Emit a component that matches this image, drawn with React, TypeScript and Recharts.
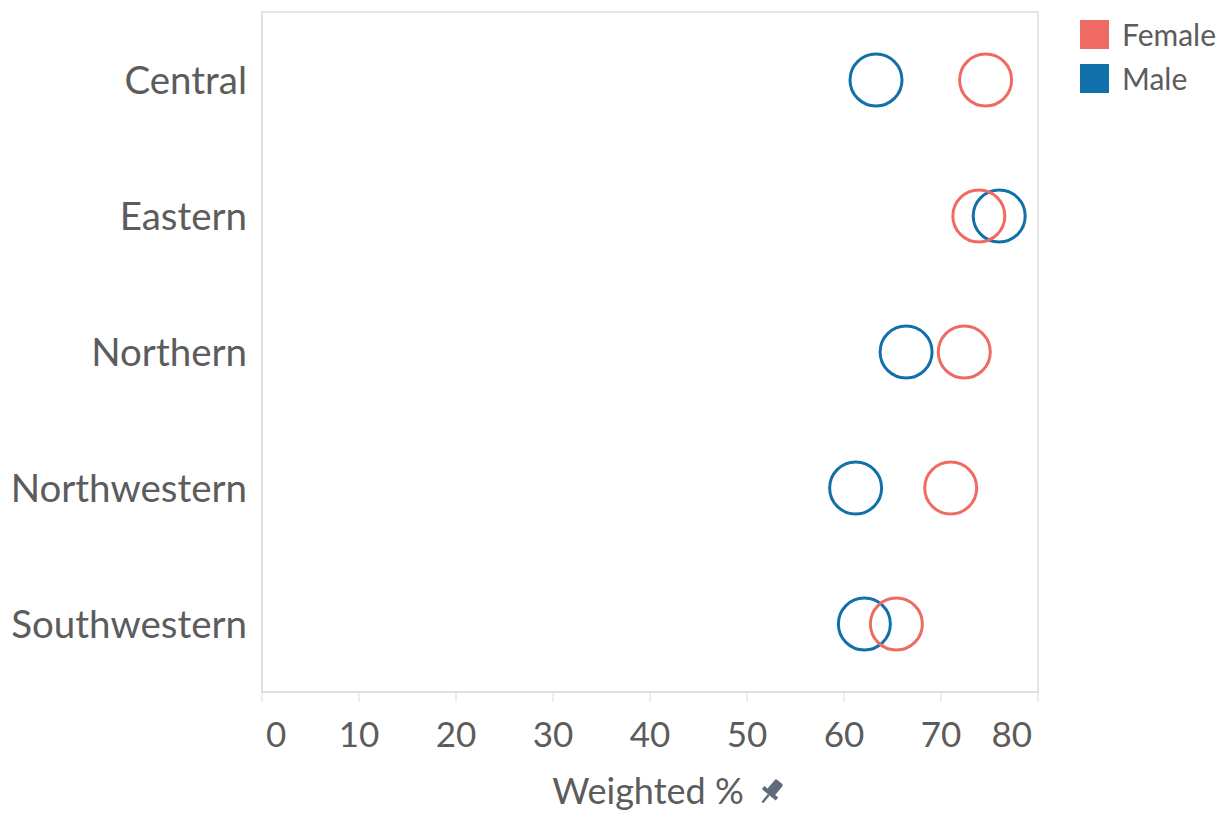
import {
    ScatterChart,
    Scatter,
    XAxis,
    YAxis,
    ReferenceArea,
} from 'recharts';

const regions = ['Central', 'Eastern', 'Northern', 'Northwestern', 'Southwestern'];
const femaleValues = [74.6, 73.9, 72.4, 71.0, 65.4];
const maleValues = [63.3, 76.0, 66.4, 61.2, 62.1];
const xTicks = [0, 10, 20, 30, 40, 50, 60, 70, 80];

const FEMALE = '#ef6a62';
const MALE = '#1170aa';
const TEXT = '#5c5c5c';
const BORDER = '#dcdcdc';

const femaleData = regions.map((region, i) => ({ region, value: femaleValues[i] }));
const maleData = regions.map((region, i) => ({ region, value: maleValues[i] }));

const series = [
    { name: 'Female', color: FEMALE },
    { name: 'Male', color: MALE },
];

const Ring = (color: string) => (props: any) => (
    <circle cx={props.cx} cy={props.cy} r={26} fill="none" stroke={color} strokeWidth={3} />
);

const XTick = (props: any) => {
    const v = props.payload.value;
    let anchor: 'start' | 'middle' | 'end' = 'middle';
    let dx = 0;
    if (v === 0) { anchor = 'start'; dx = 4; }
    if (v === 80) { anchor = 'end'; dx = -6; }
    return (
        <text x={props.x + dx} y={props.y} dy="0.71em" textAnchor={anchor} fill={TEXT} fontSize={35}>
            {v}
        </text>
    );
};

const AxisTitle = (props: any) => {
    const { x, width } = props.viewBox;
    const cx = x + width / 2;
    return (
        <g>
            <text x={cx - 2} y={804} textAnchor="middle" fill={TEXT} fontSize={36}>
                Weighted %
            </text>
            {/* little pin next to the title */}
            <g transform={`translate(${cx + 122}, 791) rotate(40)`} fill="#5f6b78">
                <rect x={-5} y={-12} width={10} height={14} rx={2} />
                <rect x={-9} y={1} width={18} height={4} />
                <rect x={-1.2} y={5} width={2.4} height={10} />
            </g>
        </g>
    );
};

const LegendBox = () => (
    <div style={{ position: 'absolute', left: 1080, top: 12 }}>
        {series.map((s) => (
            <div key={s.name} style={{ display: 'flex', alignItems: 'center', height: 44 }}>
                <div style={{ width: 29, height: 29, background: s.color, marginRight: 13 }} />
                <span style={{ fontSize: 30, color: TEXT, fontFamily: 'Lato' }}>{s.name}</span>
            </div>
        ))}
    </div>
);

export default function App() {
    return (
        <div style={{ position: 'absolute', left: 0, top: 0, width: 1228, height: 813, background: '#fff', overflow: 'hidden' }}>
            <ScatterChart
                width={1228}
                height={813}
                margin={{ top: 12, right: 190, bottom: 0, left: 0 }}
                style={{ fontFamily: 'Lato' }}
            >
                <XAxis
                    type="number"
                    dataKey="value"
                    domain={[0, 80]}
                    ticks={xTicks}
                    interval={0}
                    height={121}
                    tickSize={10}
                    tickMargin={20}
                    tickLine={{ stroke: BORDER }}
                    axisLine={{ stroke: BORDER }}
                    tick={<XTick />}
                    label={<AxisTitle />}
                />
                <YAxis
                    type="category"
                    dataKey="region"
                    allowDuplicatedCategory={false}
                    reversed
                    width={262}
                    tickSize={0}
                    tickMargin={15}
                    tickLine={false}
                    axisLine={{ stroke: BORDER }}
                    tick={{ fill: TEXT, fontSize: 38.5 }}
                />
                <ReferenceArea x1={0} x2={80} fill="none" stroke={BORDER} strokeWidth={1.5} ifOverflow="extendDomain" />
                <Scatter name="Male" data={maleData} shape={Ring(MALE)} isAnimationActive={false} />
                <Scatter name="Female" data={femaleData} shape={Ring(FEMALE)} isAnimationActive={false} />
            </ScatterChart>
            <LegendBox />
        </div>
    );
}
